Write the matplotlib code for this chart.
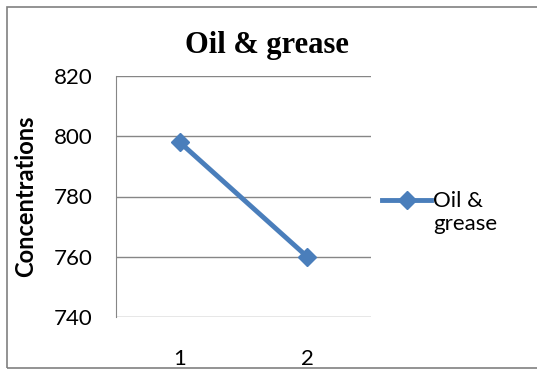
import matplotlib.pyplot as plt
from matplotlib.patches import Rectangle

samples = [1, 2]
values = [798, 760]
y_ticks = [740, 760, 780, 800, 820]
series_name = "Oil & grease"

W, H = 537, 371
fig = plt.figure(figsize=(W / 100, H / 100), dpi=100)
plt.rcParams['font.family'] = ['Lato', 'DejaVu Sans']

# outer chart border
fig.patches.append(Rectangle((7 / W, 3 / H), 1.2, (H - 10) / H, transform=fig.transFigure,
                             fill=False, edgecolor='#808080', lw=1.2))

left, right, top, bottom = 116, 371, 76, 317
ax = fig.add_axes([left / W, 1 - bottom / H, (right - left) / W, (bottom - top) / H])

line_color = '#4a7ebb'
ax.plot(samples, values, color=line_color, lw=3.5, marker='D', markersize=9,
        label="Oil &", zorder=3)

ax.set_xlim(0.5, 2.5)
ax.set_ylim(740, 820)
ax.set_yticks(y_ticks)
ax.set_xticks(samples)
ax.grid(axis='y', color='#868686', lw=1.0)
ax.set_axisbelow(True)
for s in ['top', 'right', 'bottom']:
    ax.spines[s].set_visible(False)
ax.spines['left'].set_color('#868686')
ax.tick_params(axis='both', length=0, labelsize=16)
ax.tick_params(axis='x', pad=23)
ax.tick_params(axis='y', pad=17)

ax.set_ylabel("Concentrations", fontsize=17, fontweight='bold')
ax.yaxis.set_label_coords(-0.31, 0.5)
fig.text(267 / W, 1 - 46 / H, series_name, ha='center', va='center', fontsize=22,
         fontweight='bold', family=['Liberation Serif', 'DejaVu Serif'])

# legend: handle next to first line of the wrapped name
leg = ax.legend(loc='center left', bbox_to_anchor=(1.0, 0.48), frameon=False,
                fontsize=16, handlelength=2.2, handletextpad=0.1, borderaxespad=0.1)
fig.canvas.draw()
bb = leg.get_texts()[0].get_window_extent().transformed(fig.transFigure.inverted())
fig.text(bb.x0, bb.y0 - 3 / H, "grease", ha='left', va='top', fontsize=16)

fig.savefig("out.png", dpi=100)
